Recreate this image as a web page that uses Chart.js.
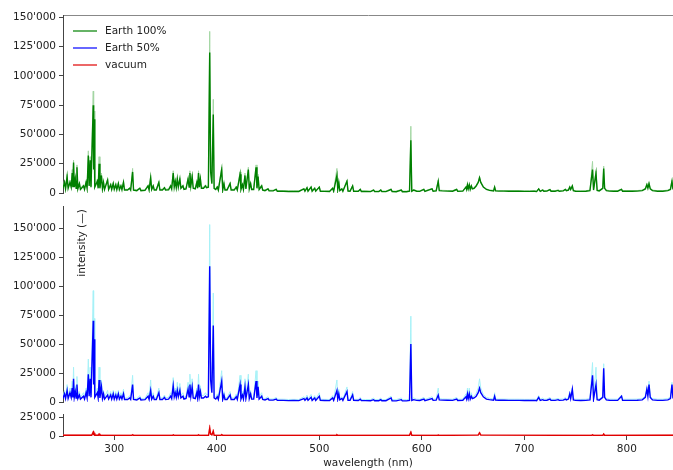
<!DOCTYPE html>
<html>
<head>
<meta charset="utf-8">
<script src="https://cdn.jsdelivr.net/npm/chart.js@4.4.0/dist/chart.umd.min.js"></script>
<style>
  html, body { margin: 0; padding: 0; background: #fff; overflow: hidden; }
  #wrap { position: relative; width: 673px; height: 470px; }
  #wrap canvas { position: absolute; left: 0; }
</style>
</head>
<body>
<div id="wrap">
  <canvas id="c100" width="673" height="205" style="top:0px"></canvas>
  <canvas id="c50" width="673" height="215" style="top:195px"></canvas>
  <canvas id="cvac" width="673" height="65" style="top:405px"></canvas>
</div>
<script>
// spectra, intensity in counts, wavelength in nm
const wavelength = [
  250, 251.5, 252.5, 254, 255, 256.8, 258, 259, 259.6, 260.3,
  261, 262, 262.8, 263.6, 264.5, 266, 267, 270, 271, 272.5,
  273.5, 274.7, 275.5, 276.5, 277.3, 279.5, 279.9, 280.3, 281, 283.5,
  284.3, 285.2, 286, 287.5, 288.5, 289.5, 290.5, 293.5, 294.5, 296.5,
  297.5, 299, 300, 301.5, 302.5, 304, 305, 306.5, 307.5, 309,
  310, 313, 315, 316, 317.9, 318.8, 322, 325, 326, 330,
  333, 334, 335.5, 336.5, 338, 339, 341, 343.5, 344.5, 347,
  349, 350, 353, 355, 356, 357.5, 358.5, 359.5, 360.5, 361.5,
  362.5, 364, 365, 367, 368, 370, 372, 373, 373.8, 374.7,
  376, 377, 379, 380.5, 381.3, 382.2, 383, 384, 385, 387,
  389, 390, 391.8, 393.1, 394, 395.2, 396.6, 397.4, 399, 400.5,
  401.5, 404.8, 405.8, 407, 408, 410, 413, 414, 417, 419,
  420, 422.7, 423.6, 425, 426, 427.5, 428.4, 430.8, 431.7, 433,
  434, 436, 438.3, 439.2, 440.3, 441.3, 443.8, 444.8, 447, 450,
  451, 455, 458, 459, 465, 470, 475, 480, 485, 486,
  488, 489, 492, 493, 495.5, 496.5, 500, 501, 505, 510,
  513, 514, 517.2, 518, 519, 520, 522, 523, 527, 528,
  530, 532.5, 533.5, 538, 540, 541, 545, 550, 553, 554,
  558, 560, 561, 565, 570, 571, 575, 580, 581, 585,
  588, 589.3, 590.2, 592, 595, 598, 602, 603, 610, 611,
  614, 616, 617, 620, 625, 630, 634, 635, 640, 643,
  643.7, 644.5, 645.3, 646.3, 647.2, 648.3, 649.3, 651, 653, 655,
  656.3, 657.5, 660, 663, 666, 670, 671, 672, 675, 680,
  685, 690, 695, 700, 705, 710, 712, 714, 715.5, 718,
  719, 722, 725, 726, 730, 733, 734, 738, 740, 741,
  743, 744.3, 745.2, 746.8, 747.8, 750, 755, 760, 764, 766.5,
  767.5, 769.9, 771, 773, 776.5, 777.4, 778.3, 780, 783, 787,
  791, 794.8, 795.8, 800, 805, 810, 815, 818, 819.5, 820.5,
  821.6, 822.8, 825, 830, 835, 840, 842.5, 844, 845
];

const earth100 = [
  4000, 9000, 3500, 14000, 4000, 9000, 5000, 17000, 5000, 26000,
  5000, 12000, 4000, 22000, 3500, 8000, 3000, 6000, 3000, 9000,
  4000, 32000, 6000, 28000, 5000, 75000, 20000, 63000, 5000, 10000,
  4000, 25000, 4000, 15000, 3500, 9000, 3000, 11000, 3000, 7000,
  3000, 8000, 3000, 7000, 2800, 8000, 2800, 6000, 2800, 9000,
  2500, 2500, 4000, 2500, 18000, 2500, 2000, 4000, 2000, 2200,
  6000, 2500, 13000, 3000, 6000, 2500, 2500, 9000, 2500, 2500,
  4500, 2500, 2800, 6000, 3500, 17000, 5000, 10000, 4500, 12000,
  5000, 12000, 4000, 6000, 3000, 3500, 12000, 5000, 17000, 6000,
  14000, 4000, 3500, 9000, 4000, 17000, 5000, 12000, 4000, 4000,
  6000, 4500, 5000, 120000, 18000, 8000, 67000, 4000, 3000, 5000,
  2500, 20000, 2500, 8000, 2500, 2500, 8000, 2500, 2500, 5000,
  2500, 16000, 3000, 7000, 3000, 15000, 3500, 20000, 3500, 8000,
  3000, 3000, 22000, 4000, 14000, 3000, 6000, 2500, 2000, 3500,
  1800, 1800, 3000, 1500, 1500, 1300, 1400, 1300, 3500, 1500,
  4500, 1500, 5000, 1500, 4000, 1500, 5000, 1500, 1400, 1300,
  4000, 1500, 15000, 3000, 9000, 2000, 3500, 1500, 10000, 1600,
  1500, 6000, 1500, 1400, 3000, 1300, 1300, 1200, 2500, 1200,
  1200, 2500, 1200, 1200, 3000, 1200, 1100, 2500, 1100, 1100,
  1500, 45000, 1500, 2500, 1500, 1400, 3000, 1300, 3500, 1500,
  1800, 10000, 2000, 1800, 1600, 1500, 3000, 1400, 1600, 5000,
  3000, 7000, 3500, 7000, 3000, 6000, 3500, 4000, 6000, 9000,
  13000, 9000, 5000, 3000, 2200, 1800, 5000, 1800, 1600, 1600,
  1500, 1500, 1500, 1400, 1400, 1500, 1200, 3500, 1400, 2500,
  1500, 1600, 2800, 1500, 1500, 2200, 1500, 1800, 3000, 2000,
  2500, 5000, 3000, 6000, 2000, 1500, 1400, 1500, 2000, 20000,
  2500, 17000, 2200, 1800, 4000, 21000, 4000, 2000, 1600, 1500,
  1500, 3000, 1500, 1500, 1500, 1600, 2000, 3500, 7000, 4000,
  8000, 3500, 2000, 1500, 1500, 2000, 3000, 10000, 3000
];

const earth100Max = [
  5000, 11000, 4500, 16000, 5000, 11000, 6000, 20000, 6000, 28000,
  6000, 14000, 5000, 24000, 4500, 9000, 4000, 7000, 4000, 10000,
  5000, 36000, 7000, 31000, 6000, 87000, 25000, 70000, 6000, 12000,
  5000, 31000, 5000, 17000, 4500, 10000, 4000, 12000, 4000, 8000,
  4000, 9000, 4000, 8000, 3500, 9000, 3500, 7000, 3500, 10000,
  3200, 3200, 4500, 3200, 21000, 3200, 2800, 4500, 2800, 3000,
  7000, 3200, 15000, 3800, 7000, 3200, 3200, 10000, 3200, 3200,
  5000, 3200, 3500, 7000, 4200, 19000, 6000, 11000, 5500, 13000,
  6000, 13000, 5000, 7000, 3800, 4200, 13000, 6000, 19000, 7000,
  16000, 5000, 4200, 10000, 5000, 19000, 6000, 13000, 5000, 5000,
  7000, 5500, 6000, 138000, 22000, 9000, 80000, 5000, 3800, 6000,
  3200, 22000, 3200, 9000, 3200, 3200, 9000, 3200, 3200, 6000,
  3200, 18000, 3800, 8000, 3800, 17000, 4200, 22000, 4200, 9000,
  3800, 3800, 24000, 5000, 16000, 3800, 7000, 3200, 2600, 4000,
  2400, 2400, 3500, 2000, 2000, 1800, 1900, 1800, 4000, 2000,
  5000, 2000, 5500, 2000, 4500, 2000, 5500, 2000, 1900, 1800,
  4500, 2000, 21000, 3500, 10000, 2500, 4000, 2000, 11000, 2100,
  2000, 6500, 2000, 1900, 3500, 1800, 1800, 1700, 3000, 1700,
  1700, 3000, 1700, 1700, 3500, 1700, 1600, 3000, 1600, 1600,
  2000, 57000, 2000, 3000, 2000, 1900, 3500, 1800, 4000, 2000,
  2300, 11000, 2500, 2300, 2100, 2000, 3500, 1900, 2100, 5500,
  3500, 7500, 4000, 7500, 3500, 6500, 4000, 4500, 6500, 9500,
  14000, 9500, 5500, 3500, 2700, 2300, 5500, 2300, 2100, 2100,
  2000, 2000, 2000, 1900, 1900, 2000, 1700, 4000, 1900, 3000,
  2000, 2100, 3300, 2000, 2000, 2700, 2000, 2300, 3500, 2500,
  3000, 5500, 3500, 6500, 2500, 2000, 1900, 2000, 2500, 27000,
  3000, 19000, 2700, 2300, 4500, 23000, 4500, 2500, 2100, 2000,
  2000, 3500, 2000, 2000, 2000, 2100, 2500, 4000, 8000, 4500,
  9000, 4000, 2500, 2000, 2000, 2500, 3500, 11000, 3500
];

const earth50 = [
  3000, 7000, 3000, 10000, 3000, 8000, 4000, 12000, 4000, 20000,
  4000, 9000, 3500, 15000, 3000, 6000, 2500, 5000, 2500, 8000,
  3500, 24000, 5000, 20000, 4000, 70000, 15000, 54000, 4000, 8000,
  3500, 19000, 3500, 13000, 3000, 7000, 2500, 6000, 2500, 6000,
  2500, 7000, 2500, 6000, 2500, 7000, 2500, 5000, 2500, 7000,
  2200, 2200, 3500, 2200, 15000, 2200, 1800, 3500, 1800, 2000,
  5000, 2200, 10000, 2500, 5000, 2200, 2200, 8000, 2200, 2200,
  4000, 2200, 2500, 5000, 3000, 14000, 4500, 8000, 4000, 10000,
  4500, 10000, 3500, 5000, 2500, 3000, 11000, 4500, 15000, 5000,
  13000, 3500, 3000, 8000, 3500, 15000, 4500, 9000, 3500, 3500,
  5000, 4000, 4500, 117000, 19000, 8000, 66000, 3500, 2500, 4500,
  2200, 18000, 2200, 6000, 2200, 2200, 6000, 2200, 2200, 4500,
  2200, 15000, 2500, 6000, 2500, 13000, 3000, 15000, 3000, 7000,
  2500, 2500, 18000, 3500, 13000, 2500, 5000, 2200, 1800, 3000,
  1600, 1600, 2500, 1400, 1400, 1200, 1300, 1200, 3000, 1400,
  3500, 1400, 4000, 1400, 3500, 1400, 5000, 1400, 1300, 1200,
  3500, 1400, 10000, 2500, 7000, 1800, 3000, 1400, 9000, 1500,
  1400, 6000, 1400, 1300, 2500, 1200, 1200, 1100, 2000, 1100,
  1100, 2000, 1100, 1100, 3500, 1100, 1000, 2000, 1000, 1000,
  1400, 50000, 1400, 2000, 1400, 1300, 2500, 1200, 3000, 1400,
  1600, 6000, 1800, 1600, 1500, 1400, 2500, 1300, 1500, 4500,
  2500, 7000, 3000, 7000, 2500, 5000, 3000, 3500, 5000, 8000,
  12000, 8000, 4500, 2500, 2000, 1600, 5000, 1600, 1500, 1500,
  1400, 1400, 1400, 1300, 1300, 1400, 1100, 4000, 1300, 2000,
  1400, 1500, 2500, 1400, 1400, 2000, 1400, 1600, 2500, 1800,
  2500, 7000, 3000, 11000, 1800, 1400, 1300, 1400, 1800, 23000,
  2500, 15000, 2000, 1600, 4000, 29000, 4000, 1800, 1500, 1400,
  1400, 5000, 1400, 1400, 1400, 1500, 1800, 4000, 11000, 5000,
  15000, 4000, 1800, 1400, 1400, 1800, 3000, 15000, 3000
];

const earth50Max = [
  4500, 10000, 4000, 15000, 4500, 12000, 6000, 18000, 6000, 30000,
  6000, 14000, 5000, 22000, 4500, 9000, 4000, 8000, 4000, 12000,
  5000, 37000, 7000, 30000, 6000, 96000, 22000, 72000, 6000, 12000,
  5000, 30000, 5000, 19000, 4500, 10000, 4000, 10000, 4000, 9000,
  4000, 10000, 4000, 9000, 4000, 10000, 4000, 8000, 4000, 11000,
  3500, 3500, 5500, 3500, 23000, 3500, 3000, 5500, 3000, 3200,
  8000, 3500, 19000, 4000, 8000, 3500, 3500, 12000, 3500, 3500,
  6000, 3500, 4000, 8000, 4500, 21000, 7000, 12000, 6500, 17000,
  7000, 16000, 5500, 8000, 4000, 4500, 17000, 7000, 24000, 8000,
  20000, 5500, 4500, 12000, 5500, 24000, 7000, 14000, 5500, 5500,
  8000, 6000, 6500, 153000, 24000, 11000, 94000, 5500, 4000, 7000,
  3500, 27000, 3500, 9000, 3500, 3500, 9000, 3500, 3500, 7000,
  3500, 23000, 4000, 9000, 4000, 20000, 4500, 24000, 4500, 10000,
  4000, 4000, 27000, 5500, 18000, 4000, 8000, 3500, 3000, 4500,
  2600, 2600, 4000, 2400, 2400, 2200, 2300, 2200, 4500, 2400,
  6000, 2400, 6500, 2400, 5500, 2400, 8000, 2400, 2300, 2200,
  5500, 2400, 19000, 4000, 11000, 3000, 4500, 2400, 13000, 2500,
  2400, 9000, 2400, 2300, 4000, 2200, 2200, 2100, 3500, 2100,
  2100, 3500, 2100, 2100, 5000, 2100, 2000, 3500, 2000, 2000,
  2400, 74000, 2400, 3500, 2400, 2300, 4000, 2200, 4500, 2400,
  2600, 12000, 3000, 2600, 2500, 2400, 4000, 2300, 2500, 7000,
  4000, 12000, 4500, 12000, 4000, 8000, 4500, 5000, 7500, 12000,
  20000, 12000, 6500, 4000, 3200, 2600, 8000, 2600, 2500, 2500,
  2400, 2400, 2400, 2300, 2300, 2400, 2100, 5500, 2300, 3500,
  2400, 2500, 4000, 2400, 2400, 3200, 2400, 2600, 4000, 3000,
  3500, 9000, 4000, 12000, 3000, 2400, 2300, 2400, 3000, 34000,
  3500, 30000, 3200, 2600, 5000, 33000, 5000, 3000, 2500, 2400,
  2400, 6000, 2400, 2400, 2400, 2500, 3000, 5000, 13000, 6000,
  18000, 5000, 3000, 2400, 2400, 3000, 4000, 17000, 4000
];

const vacuumWavelength = [
  250, 278, 279.5, 280, 280.3, 281, 284.5, 285.2, 286, 317,
  317.9, 319, 357, 357.5, 358.5, 381.5, 382.2, 383, 392, 393.1,
  394, 395.2, 396.6, 397.4, 404, 404.8, 405.8, 516.5, 517.2, 518,
  588, 589.3, 590.2, 615.3, 616, 617, 655, 656.3, 657.5, 765.8,
  766.5, 767.5, 776.6, 777.4, 778.3, 845
];
const vacuum = [
  900, 900, 5000, 1200, 3500, 900, 900, 2500, 900, 800,
  1500, 800, 800, 1500, 800, 800, 1500, 800, 1000, 10000,
  2500, 1500, 6000, 900, 800, 1800, 800, 800, 1500, 800,
  900, 5000, 900, 800, 1200, 800, 1200, 4000, 1200, 800,
  1500, 800, 800, 2500, 800, 900
];
const vacuumMax = [
  1300, 1300, 6500, 1600, 4500, 1300, 1300, 3500, 1300, 1200,
  2200, 1200, 1200, 2000, 1200, 1200, 2200, 1200, 1500, 14500,
  3500, 2500, 9000, 1300, 1200, 2500, 1200, 1200, 2000, 1200,
  1300, 6500, 1300, 1200, 1800, 1200, 1800, 5500, 1800, 1200,
  2200, 1200, 1200, 3500, 1200, 1300
];

// tick values
const intensityTicks = [0, 25000, 50000, 75000, 100000, 125000, 150000];
const vacuumTicks = [0, 25000];
const wavelengthTicks = [300, 400, 500, 600, 700, 800];

const seriesNames = ['Earth 100%', 'Earth 50%', 'vacuum'];
const seriesColors = ['#008000', '#0000ff', '#e00000'];
const maxColors = ['#a3d6a3', '#a6f1f7', '#f5a3a3'];
const yTitle = 'intensity (\u2014)';
const xTitle = 'wavelength (nm)';
const xMin = 250, xMax = 845;

Chart.defaults.font.family = "'DejaVu Sans', sans-serif";
Chart.defaults.font.size = 10.5;
Chart.defaults.color = '#222';
Chart.defaults.animation = false;

const fmt = v => String(v).replace(/\B(?=(\d{3})+(?!\d))/g, "'");
const pts = (xs, ys) => xs.map((x, i) => ({ x: x, y: ys[i] }));
const fixedTicks = list => scale => { scale.ticks = list.map(v => ({ value: v })); };

function lineSet(data, color, width) {
  return {
    data: data,
    borderColor: color,
    borderWidth: width,
    pointRadius: 0,
    tension: 0,
    fill: false
  };
}

// y axis with a fixed width and no extra room reserved for end labels,
// so the layout padding alone places the plot area
function yAxis(max, tickList) {
  return {
    min: 0,
    max: max,
    afterBuildTicks: fixedTicks(tickList),
    afterFit: s => { s.width = 63; s.paddingTop = 0; s.paddingBottom = 0; },
    border: { display: true, color: '#444', width: 1 },
    grid: { display: true, drawOnChartArea: false, tickLength: 4, color: '#444' },
    ticks: { padding: 3, callback: v => fmt(v) }
  };
}

function hiddenX() {
  return { type: 'linear', min: xMin, max: xMax, display: false };
}

// legend for all three panels, drawn inside the top one
const legendBox = {
  id: 'legendBox',
  afterDraw(chart) {
    const { ctx, chartArea } = chart;
    ctx.save();
    ctx.font = "10.5px 'DejaVu Sans'";
    ctx.textBaseline = 'middle';
    seriesNames.forEach((name, i) => {
      const y = chartArea.top + 16 + i * 17;
      ctx.strokeStyle = seriesColors[i];
      ctx.lineWidth = 1.2;
      ctx.beginPath();
      ctx.moveTo(chartArea.left + 10, y);
      ctx.lineTo(chartArea.left + 34, y);
      ctx.stroke();
      ctx.fillStyle = '#222';
      ctx.fillText(name, chartArea.left + 42, y);
    });
    ctx.restore();
  }
};

// shared y title, written just inside the middle panel
const intensityLabel = {
  id: 'intensityLabel',
  afterDraw(chart) {
    const { ctx, chartArea } = chart;
    ctx.save();
    ctx.translate(chartArea.left + 19, chartArea.top + 37);
    ctx.rotate(-Math.PI / 2);
    ctx.font = "10.5px 'DejaVu Sans'";
    ctx.fillStyle = '#222';
    ctx.textAlign = 'center';
    ctx.textBaseline = 'middle';
    ctx.fillText(yTitle, 0, 0);
    ctx.restore();
  }
};

new Chart(document.getElementById('c100'), {
  type: 'line',
  data: {
    datasets: [
      lineSet(pts(wavelength, earth100), seriesColors[0], 1.4),
      lineSet(pts(wavelength, earth100Max), maxColors[0], 1)
    ]
  },
  options: {
    responsive: false,
    layout: { padding: { top: 15, bottom: 12, left: 0, right: 0 } },
    plugins: { legend: { display: false }, tooltip: { enabled: false } },
    scales: {
      x: {
        type: 'linear', min: xMin, max: xMax, position: 'top',
        ticks: { display: false },
        grid: { display: false },
        border: { display: true, color: '#888', width: 1 },
        afterFit: s => { s.height = 0; }
      },
      y: yAxis(152000, intensityTicks)
    }
  },
  plugins: [legendBox]
});

new Chart(document.getElementById('c50'), {
  type: 'line',
  data: {
    datasets: [
      lineSet(pts(wavelength, earth50), seriesColors[1], 1.4),
      lineSet(pts(wavelength, earth50Max), maxColors[1], 1)
    ]
  },
  options: {
    responsive: false,
    layout: { padding: { top: 11, bottom: 8, left: 0, right: 0 } },
    plugins: { legend: { display: false }, tooltip: { enabled: false } },
    scales: { x: hiddenX(), y: yAxis(169000, intensityTicks) }
  },
  plugins: [intensityLabel]
});

new Chart(document.getElementById('cvac'), {
  type: 'line',
  data: {
    datasets: [
      lineSet(pts(vacuumWavelength, vacuum), seriesColors[2], 1.4),
      lineSet(pts(vacuumWavelength, vacuumMax), maxColors[2], 1)
    ]
  },
  options: {
    responsive: false,
    layout: { padding: { top: 9, bottom: 0, left: 0, right: 0 } },
    plugins: { legend: { display: false }, tooltip: { enabled: false } },
    scales: {
      x: {
        type: 'linear', min: xMin, max: xMax, position: 'bottom',
        afterBuildTicks: fixedTicks(wavelengthTicks),
        afterFit: s => { s.height = 34; s.paddingLeft = 0; s.paddingRight = 0; },
        border: { display: false },
        grid: { display: true, drawOnChartArea: false, tickLength: 4, color: '#444' },
        ticks: { padding: 3, maxRotation: 0 },
        title: { display: true, text: xTitle, padding: { top: 0, bottom: 0 } }
      },
      y: yAxis(29000, vacuumTicks)
    }
  }
});
</script>
</body>
</html>
